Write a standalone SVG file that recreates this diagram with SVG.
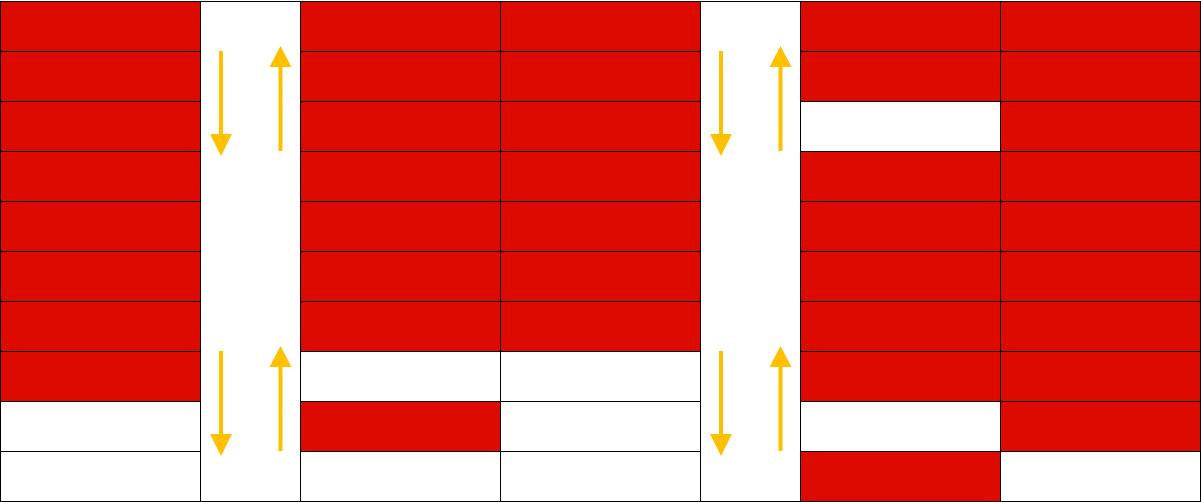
<svg xmlns="http://www.w3.org/2000/svg" width="1201" height="502" viewBox="0 0 1201 502">
<style>
.r{fill:#dd0a00;stroke:#000;stroke-width:1}
.w{fill:#fff;stroke:#000;stroke-width:1}
.a{stroke:#ffc000;stroke-width:4;fill:none}
.h{fill:#ffc000}
</style>
<rect width="1201" height="502" fill="#fff"/>
<g id="colA" transform="translate(0.5,1.5)">
<rect class="r" x="0" y="0" width="200" height="50"/>
<rect class="r" x="0" y="50" width="200" height="50"/>
<rect class="r" x="0" y="100" width="200" height="50"/>
<rect class="r" x="0" y="150" width="200" height="50"/>
<rect class="r" x="0" y="200" width="200" height="50"/>
<rect class="r" x="0" y="250" width="200" height="50"/>
<rect class="r" x="0" y="300" width="200" height="50"/>
<rect class="r" x="0" y="350" width="200" height="50"/>
<rect class="w" x="0" y="400" width="200" height="50"/>
<rect class="w" x="0" y="450" width="200" height="50"/>
</g>
<g id="aisle1" transform="translate(0.5,1.5)">
<rect class="w" x="200" y="0" width="100" height="500"/>
</g>
<g id="colB" transform="translate(0.5,1.5)">
<rect class="r" x="300" y="0" width="200" height="50"/>
<rect class="r" x="300" y="50" width="200" height="50"/>
<rect class="r" x="300" y="100" width="200" height="50"/>
<rect class="r" x="300" y="150" width="200" height="50"/>
<rect class="r" x="300" y="200" width="200" height="50"/>
<rect class="r" x="300" y="250" width="200" height="50"/>
<rect class="r" x="300" y="300" width="200" height="50"/>
<rect class="w" x="300" y="350" width="200" height="50"/>
<rect class="r" x="300" y="400" width="200" height="50"/>
<rect class="w" x="300" y="450" width="200" height="50"/>
</g>
<g id="colC" transform="translate(0.5,1.5)">
<rect class="r" x="500" y="0" width="200" height="50"/>
<rect class="r" x="500" y="50" width="200" height="50"/>
<rect class="r" x="500" y="100" width="200" height="50"/>
<rect class="r" x="500" y="150" width="200" height="50"/>
<rect class="r" x="500" y="200" width="200" height="50"/>
<rect class="r" x="500" y="250" width="200" height="50"/>
<rect class="r" x="500" y="300" width="200" height="50"/>
<rect class="w" x="500" y="350" width="200" height="50"/>
<rect class="w" x="500" y="400" width="200" height="50"/>
<rect class="w" x="500" y="450" width="200" height="50"/>
</g>
<g id="aisle2" transform="translate(0.5,1.5)">
<rect class="w" x="700" y="0" width="100" height="500"/>
</g>
<g id="colD" transform="translate(0.5,1.5)">
<rect class="r" x="800" y="0" width="200" height="50"/>
<rect class="r" x="800" y="50" width="200" height="50"/>
<rect class="w" x="800" y="100" width="200" height="50"/>
<rect class="r" x="800" y="150" width="200" height="50"/>
<rect class="r" x="800" y="200" width="200" height="50"/>
<rect class="r" x="800" y="250" width="200" height="50"/>
<rect class="r" x="800" y="300" width="200" height="50"/>
<rect class="r" x="800" y="350" width="200" height="50"/>
<rect class="w" x="800" y="400" width="200" height="50"/>
<rect class="r" x="800" y="450" width="200" height="50"/>
</g>
<g id="colE" transform="translate(0.5,1.5)">
<rect class="r" x="1000" y="0" width="200" height="50"/>
<rect class="r" x="1000" y="50" width="200" height="50"/>
<rect class="r" x="1000" y="100" width="200" height="50"/>
<rect class="r" x="1000" y="150" width="200" height="50"/>
<rect class="r" x="1000" y="200" width="200" height="50"/>
<rect class="r" x="1000" y="250" width="200" height="50"/>
<rect class="r" x="1000" y="300" width="200" height="50"/>
<rect class="r" x="1000" y="350" width="200" height="50"/>
<rect class="r" x="1000" y="400" width="200" height="50"/>
<rect class="w" x="1000" y="450" width="200" height="50"/>
</g>
<defs>
<g id="down"><line class="a" x1="0" y1="0" x2="0" y2="84"/><polygon class="h" points="-11,83 11,83 0,105"/></g>
<g id="up"><line class="a" x1="0" y1="105" x2="0" y2="20"/><polygon class="h" points="-11,21 11,21 0,0"/></g>
</defs>
<g id="connectors">
<use href="#down" x="221" y="51"/>
<use href="#up" x="280.5" y="46"/>
<use href="#down" x="221" y="351"/>
<use href="#up" x="280.5" y="346"/>
<use href="#down" x="721" y="51"/>
<use href="#up" x="780.5" y="46"/>
<use href="#down" x="721" y="351"/>
<use href="#up" x="780.5" y="346"/>
</g>
</svg>
